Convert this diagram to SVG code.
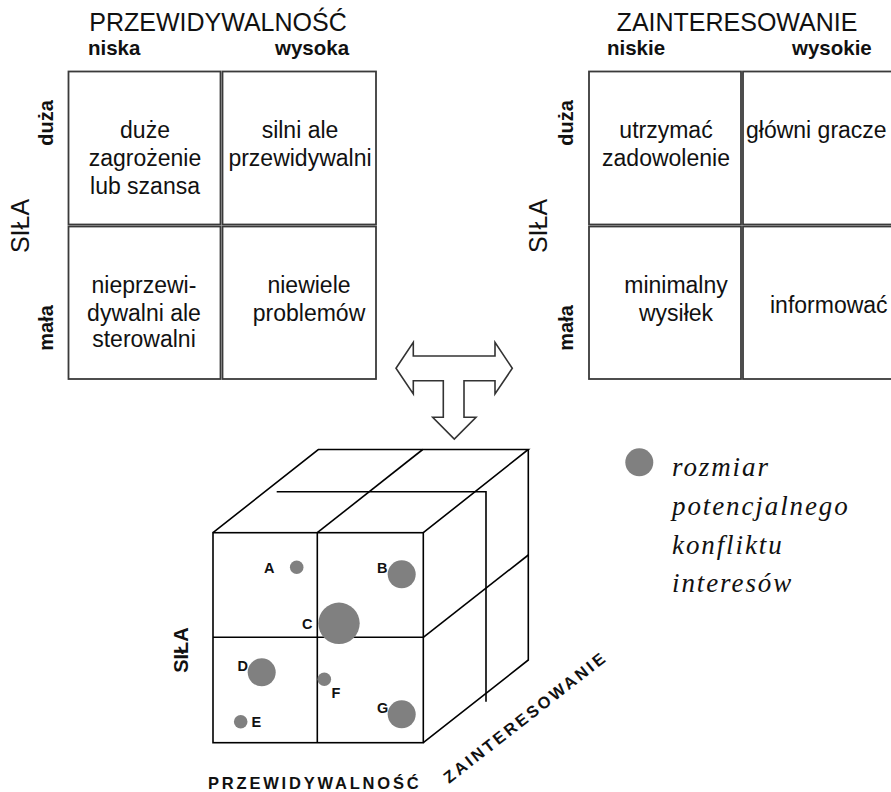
<svg xmlns="http://www.w3.org/2000/svg" width="891" height="792" viewBox="0 0 891 792">
  <style>
    .cell { fill: #fff; stroke: #3a3a3a; stroke-width: 1.8; }
    .txt { font-family: "Liberation Sans", Arial, sans-serif; fill: #111; }
    .title { font-size: 25px; text-anchor: middle; }
    .head { font-size: 20.5px; font-weight: bold; }
    .body { font-size: 23px; text-anchor: middle; }
    .side { font-size: 20px; font-weight: bold; text-anchor: middle; }
    .axis { font-size: 25px; text-anchor: middle; }
    .cube { fill: none; stroke: #000; stroke-width: 1.6; stroke-linejoin: miter; }
    .dot { fill: #808080; }
    .lbl { font-family: "Liberation Sans", Arial, sans-serif; font-size: 14.5px; font-weight: bold; fill: #111; }
    .cubeaxis { font-family: "Liberation Sans", Arial, sans-serif; font-size: 16.5px; font-weight: bold; letter-spacing: 2.8px; fill: #111; }
    .legend { font-family: "Liberation Serif", "Times New Roman", serif; font-style: italic; font-size: 27px; letter-spacing: 1.9px; fill: #111; }
  </style>

  <!-- Matrix: power vs predictability -->
  <g id="matrix-predictability">
    <text class="txt title" x="218" y="31">PRZEWIDYWALNOŚĆ</text>
    <text class="txt head" x="88" y="55">niska</text>
    <text class="txt head" x="275" y="55">wysoka</text>
    <text class="txt axis" transform="translate(29,226) rotate(-90)">SIŁA</text>
    <text class="txt side" transform="translate(53,123) rotate(-90)">duża</text>
    <text class="txt side" transform="translate(53,328) rotate(-90)">mała</text>
    <g id="cell-p-tl">
      <rect class="cell" x="68.5" y="71.5" width="152" height="153"/>
      <text class="txt body" x="145" y="138">duże</text>
      <text class="txt body" x="145" y="166">zagrożenie</text>
      <text class="txt body" x="145" y="194">lub szansa</text>
    </g>
    <g id="cell-p-tr">
      <rect class="cell" x="222.5" y="71.5" width="153.5" height="153"/>
      <text class="txt body" x="300" y="138">silni ale</text>
      <text class="txt body" x="300" y="166">przewidywalni</text>
    </g>
    <g id="cell-p-bl">
      <rect class="cell" x="68.5" y="226.5" width="152" height="152.5"/>
      <text class="txt body" x="144" y="293">nieprzewi-</text>
      <text class="txt body" x="144" y="321">dywalni ale</text>
      <text class="txt body" x="144" y="347">sterowalni</text>
    </g>
    <g id="cell-p-br">
      <rect class="cell" x="222.5" y="226.5" width="153.5" height="152.5"/>
      <text class="txt body" x="309" y="293">niewiele</text>
      <text class="txt body" x="309" y="321">problemów</text>
    </g>
  </g>

  <!-- Matrix: power vs interest -->
  <g id="matrix-interest">
    <text class="txt title" x="737" y="31">ZAINTERESOWANIE</text>
    <text class="txt head" x="607" y="55">niskie</text>
    <text class="txt head" x="792" y="55">wysokie</text>
    <text class="txt axis" transform="translate(547,226) rotate(-90)">SIŁA</text>
    <text class="txt side" transform="translate(573,123) rotate(-90)">duża</text>
    <text class="txt side" transform="translate(573,328) rotate(-90)">mała</text>
    <g id="cell-i-tl">
      <rect class="cell" x="589" y="71.5" width="152" height="153"/>
      <text class="txt body" x="666" y="138">utrzymać</text>
      <text class="txt body" x="666" y="166">zadowolenie</text>
    </g>
    <g id="cell-i-tr">
      <rect class="cell" x="743" y="71.5" width="170" height="153"/>
      <text class="txt body" x="746" y="138" style="text-anchor:start">główni gracze</text>
    </g>
    <g id="cell-i-bl">
      <rect class="cell" x="589" y="226.5" width="152" height="152.5"/>
      <text class="txt body" x="676" y="293">minimalny</text>
      <text class="txt body" x="676" y="321">wysiłek</text>
    </g>
    <g id="cell-i-br">
      <rect class="cell" x="743" y="226.5" width="170" height="152.5"/>
      <text class="txt body" x="770" y="313" style="text-anchor:start">informować</text>
    </g>
  </g>

  <!-- Three-way block arrow joining both matrices into the cube -->
  <g id="connectors">
    <path d="M396,368.3 L413.3,342.3 L413.3,356 L495,356 L495,342.3 L512.3,368.3 L495,394 L495,380.7 L464,380.7 L464,417.3 L476,417.3 L454.3,439 L432.7,417.3 L443.3,417.3 L443.3,380.7 L413.3,380.7 L413.3,394 Z"
          fill="#fff" stroke="#333" stroke-width="1.6" stroke-linejoin="miter"/>
  </g>

  <!-- Combined cube: power x predictability x interest -->
  <g id="cube">
    <!-- front face -->
    <rect class="cube" x="213" y="532.7" width="210.3" height="210"/>
    <line class="cube" x1="317.3" y1="532.7" x2="317.3" y2="742.7"/>
    <line class="cube" x1="213" y1="637.3" x2="423.3" y2="637.3"/>
    <!-- top face -->
    <polyline class="cube" points="213,532.7 318.3,449.5 528.3,449.5 423.3,532.7"/>
    <line class="cube" x1="317.3" y1="532.7" x2="422.7" y2="449.5"/>
    <!-- right face -->
    <polyline class="cube" points="528.3,449.5 528.3,660 423.3,742.7"/>
    <line class="cube" x1="423.3" y1="637.3" x2="528.3" y2="555"/>
    <!-- mid-depth division -->
    <polyline class="cube" points="276.7,491.7 486,491.7 486,701.7"/>

    <g id="point-a">
      <circle class="dot" cx="296.7" cy="567.3" r="6.8"/>
      <text class="lbl" x="264" y="572.5">A</text>
    </g>
    <g id="point-b">
      <circle class="dot" cx="401.7" cy="574.3" r="14"/>
      <text class="lbl" x="377" y="572.5">B</text>
    </g>
    <g id="point-c">
      <circle class="dot" cx="339" cy="623.3" r="20.7"/>
      <text class="lbl" x="302" y="629">C</text>
    </g>
    <g id="point-d">
      <circle class="dot" cx="261.7" cy="672.3" r="14"/>
      <text class="lbl" x="237.5" y="670.5">D</text>
    </g>
    <g id="point-e">
      <circle class="dot" cx="240.7" cy="721.7" r="6.8"/>
      <text class="lbl" x="251.5" y="726.5">E</text>
    </g>
    <g id="point-f">
      <circle class="dot" cx="324.3" cy="679.3" r="6.8"/>
      <text class="lbl" x="331.5" y="698">F</text>
    </g>
    <g id="point-g">
      <circle class="dot" cx="401.7" cy="714.3" r="14"/>
      <text class="lbl" x="377" y="712.5">G</text>
    </g>

    <text class="txt" font-size="20" font-weight="bold" text-anchor="middle" transform="translate(188,650) rotate(-90)">SIŁA</text>
    <text class="cubeaxis" x="208" y="789">PRZEWIDYWALNOŚĆ</text>
    <text class="cubeaxis" transform="translate(449,784) rotate(-38)">ZAINTERESOWANIE</text>
  </g>

  <!-- Legend -->
  <g id="legend">
    <circle class="dot" cx="639.3" cy="462.3" r="14"/>
    <text class="legend" x="672" y="476">rozmiar</text>
    <text class="legend" x="672" y="515">potencjalnego</text>
    <text class="legend" x="672" y="554">konfliktu</text>
    <text class="legend" x="672" y="592">interesów</text>
  </g>
</svg>
